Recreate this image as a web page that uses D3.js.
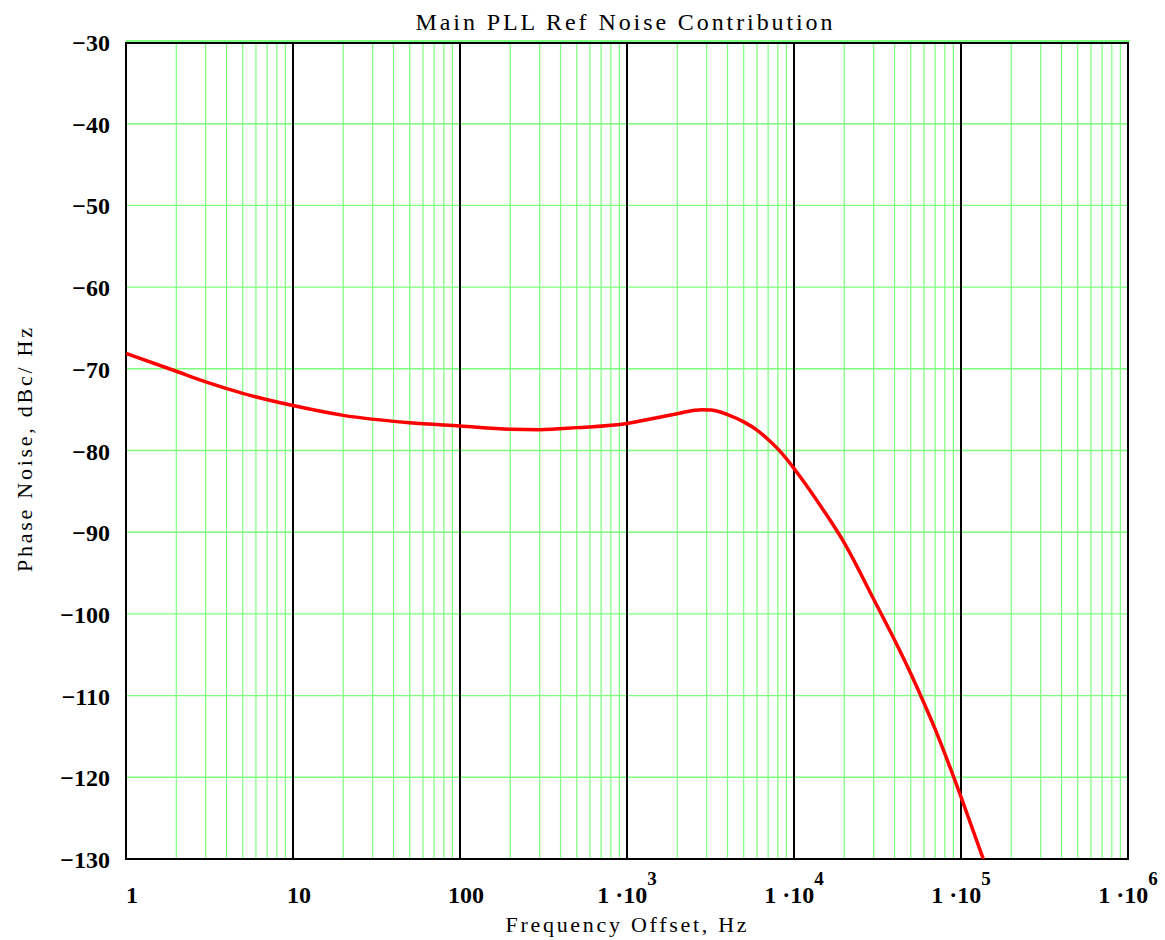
<!DOCTYPE html>
<html>
<head>
<meta charset="utf-8">
<script src="https://cdn.jsdelivr.net/npm/d3@7"></script>
<style>
  body { margin: 0; background: #fff; }
  svg text { font-family: "Liberation Serif", "Times New Roman", serif; }
</style>
</head>
<body>
<div id="chart-container"></div>
<script>
// frequency offset (Hz) and phase noise (dBc/Hz)
const freqs = [1, 2, 3, 5, 10, 20, 50, 100, 200, 300, 500, 1000, 1200, 2000, 2500, 2800, 3200, 4000, 5000, 6000, 7000, 8000, 9000, 10000, 15000, 20000, 30000, 40000, 50000, 60000, 70000, 80000, 90000, 100000, 136000];
const noise = [-68.1, -70.3, -71.6, -73.0, -74.5, -75.7, -76.6, -77.0, -77.4, -77.45, -77.2, -76.7, -76.4, -75.5, -75.1, -75.0, -75.05, -75.6, -76.5, -77.5, -78.65, -79.8, -81.0, -82.2, -87.3, -91.3, -98.2, -103.2, -107.3, -110.9, -114.1, -117.1, -119.85, -122.4, -130.0];
const yTicks = [-30, -40, -50, -60, -70, -80, -90, -100, -110, -120, -130];
const decades = [1, 10, 100, 1000, 10000, 100000, 1000000];
const xLabels = [
  { base: "1", exp: "" }, { base: "10", exp: "" }, { base: "100", exp: "" },
  { base: "1 \u00b710", exp: "3" }, { base: "1 \u00b710", exp: "4" },
  { base: "1 \u00b710", exp: "5" }, { base: "1 \u00b710", exp: "6" }
];

const W = 1165, H = 940;
const plot = { left: 126, right: 1128, top: 42, bottom: 859 };

const svg = d3.select("#chart-container")
  .append("svg")
  .attr("width", W)
  .attr("height", H);

const x = d3.scaleLog().domain([1, 1e6]).range([plot.left, plot.right]);
const y = d3.scaleLinear().domain([-130, -30]).range([plot.bottom, plot.top]);

const green = "#7dff7d";

// minor vertical grid (2..9 per decade)
const minor = [];
decades.slice(0, -1).forEach(d => {
  for (let k = 2; k <= 9; k++) minor.push(d * k);
});
svg.append("g").selectAll("line")
  .data(minor)
  .enter().append("line")
  .attr("x1", d => x(d)).attr("x2", d => x(d))
  .attr("y1", plot.top).attr("y2", plot.bottom)
  .attr("stroke", green).attr("stroke-width", 1.2);

// horizontal grid
svg.append("g").selectAll("line")
  .data(yTicks)
  .enter().append("line")
  .attr("x1", plot.left).attr("x2", plot.right)
  .attr("y1", d => y(d)).attr("y2", d => y(d))
  .attr("stroke", green).attr("stroke-width", 1.4);

// decade lines
svg.append("g").selectAll("line")
  .data(decades)
  .enter().append("line")
  .attr("x1", d => x(d)).attr("x2", d => x(d))
  .attr("y1", plot.top).attr("y2", plot.bottom)
  .attr("stroke", "#000").attr("stroke-width", 2);

// frame
svg.append("rect")
  .attr("x", plot.left).attr("y", plot.top + 1)
  .attr("width", plot.right - plot.left).attr("height", plot.bottom - plot.top - 1)
  .attr("fill", "none").attr("stroke", "#000").attr("stroke-width", 2);
svg.append("line")
  .attr("x1", plot.left).attr("x2", plot.right + 2)
  .attr("y1", plot.top - 1).attr("y2", plot.top - 1)
  .attr("stroke", green).attr("stroke-width", 2);

// curve
svg.append("defs").append("clipPath").attr("id", "clip")
  .append("rect").attr("x", plot.left).attr("y", plot.top)
  .attr("width", plot.right - plot.left).attr("height", plot.bottom - plot.top);

const line = d3.line()
  .x((d, i) => x(freqs[i]))
  .y(d => y(d))
  .curve(d3.curveMonotoneX);

svg.append("path")
  .datum(noise)
  .attr("clip-path", "url(#clip)")
  .attr("d", line)
  .attr("fill", "none")
  .attr("stroke", "#ff0000")
  .attr("stroke-width", 3.5)
  .attr("stroke-linejoin", "round");

// y tick labels
svg.append("g").selectAll("text")
  .data(yTicks)
  .enter().append("text")
  .attr("x", 110)
  .attr("y", d => y(d) + 9)
  .attr("text-anchor", "end")
  .style("font-size", "24px")
  .style("font-weight", "bold")
  .text(d => d < 0 ? "\u2212" + Math.abs(d) : d);

// x tick labels
const xl = svg.append("g").selectAll("text")
  .data(xLabels)
  .enter().append("text")
  .attr("x", (d, i) => i === 0 ? plot.left : x(decades[i]) + (d.exp ? 0 : 6))
  .attr("y", 903)
  .attr("text-anchor", (d, i) => i === 0 ? "start" : "middle")
  .style("font-size", "24px")
  .style("font-weight", "bold");
xl.append("tspan").text(d => d.base);
xl.append("tspan")
  .attr("dy", -18)
  .style("font-size", "19px")
  .text(d => d.exp);

// titles
svg.append("text")
  .attr("x", 624).attr("y", 30)
  .attr("text-anchor", "middle")
  .attr("textLength", 417).attr("lengthAdjust", "spacing")
  .style("font-size", "24px")
  .text("Main PLL Ref Noise Contribution");

svg.append("text")
  .attr("x", 626).attr("y", 932)
  .attr("text-anchor", "middle")
  .attr("textLength", 241).attr("lengthAdjust", "spacing")
  .style("font-size", "22px")
  .text("Frequency Offset, Hz");

svg.append("text")
  .attr("transform", "translate(32,450) rotate(-90)")
  .attr("text-anchor", "middle")
  .attr("textLength", 244).attr("lengthAdjust", "spacing")
  .style("font-size", "22px")
  .text("Phase Noise, dBc/ Hz");
</script>
</body>
</html>
